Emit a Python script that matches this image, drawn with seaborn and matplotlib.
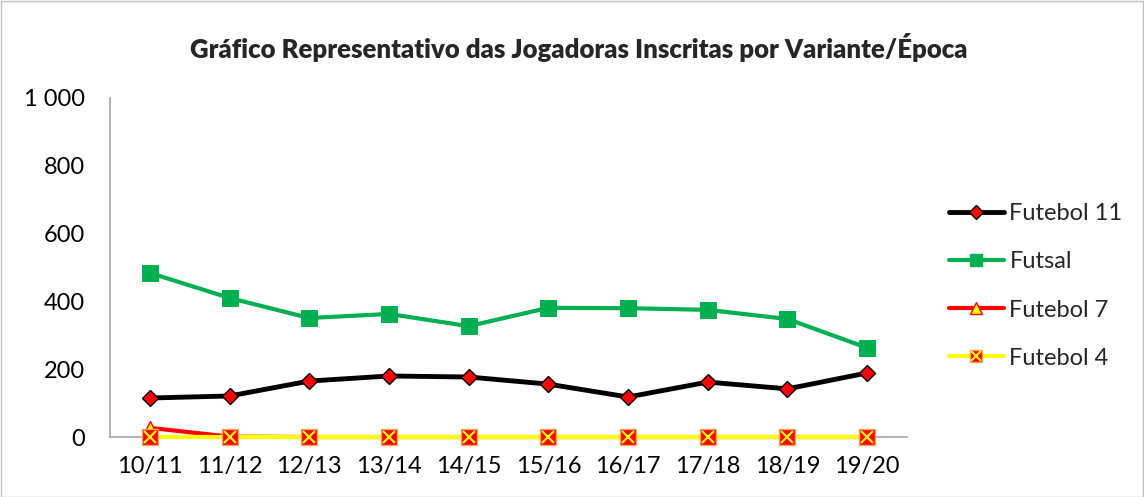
import matplotlib
matplotlib.use("Agg")
import matplotlib.pyplot as plt
import seaborn as sns
import pandas as pd
from matplotlib.lines import Line2D
from matplotlib.legend_handler import HandlerTuple
from matplotlib.ticker import FuncFormatter

epocas = ["10/11", "11/12", "12/13", "13/14", "14/15", "15/16", "16/17", "17/18", "18/19", "19/20"]
futebol11 = [115, 121, 165, 180, 177, 156, 118, 162, 142, 189]
futsal = [484, 410, 351, 363, 327, 381, 380, 375, 348, 263]
futebol7 = [27, 1, 0, 0, 0, 0, 0, 0, 0, 0]
futebol4 = [0, 0, 0, 0, 0, 0, 0, 0, 0, 0]
yticks = [0, 200, 400, 600, 800, 1000]

sns.set_theme(style="white")
plt.rcParams["font.family"] = ["Lato", "DejaVu Sans"]

df = pd.DataFrame({"Época": epocas, "Futebol 11": futebol11, "Futsal": futsal,
                   "Futebol 7": futebol7, "Futebol 4": futebol4})
df["pos"] = range(len(epocas))

fig = plt.figure(figsize=(11.44, 4.97), dpi=100)
ax = fig.add_axes([110 / 1144, 1 - 437 / 497, (907 - 110) / 1144, (437 - 98) / 497])

# Futebol 7 (por baixo)
sns.lineplot(data=df, x="pos", y="Futebol 7", ax=ax, color="#ff0000", lw=3, marker="^",
             markersize=10, markerfacecolor="#ffff00", markeredgecolor="#ff0000", markeredgewidth=1,
             zorder=3, clip_on=False)
# Futebol 4
sns.lineplot(data=df, x="pos", y="Futebol 4", ax=ax, color="#ffff00", lw=3, marker="s",
             markersize=11, markerfacecolor="#ff0000", markeredgecolor="#f4a460", markeredgewidth=1,
             zorder=4, clip_on=False)
ax.plot(df["pos"], df["Futebol 4"], ls="none", marker="x", markersize=9, color="#ffff00", mew=1.5,
        zorder=5, clip_on=False)
# Futsal
sns.lineplot(data=df, x="pos", y="Futsal", ax=ax, color="#00b050", lw=3, marker="s",
             markersize=11, markerfacecolor="#00b050", markeredgecolor="#00b050", zorder=6)
# Futebol 11
sns.lineplot(data=df, x="pos", y="Futebol 11", ax=ax, color="#000000", lw=3.5, marker="D",
             markersize=8, markerfacecolor="#ff0000", markeredgecolor="#000000", markeredgewidth=1,
             zorder=7)

ax.set_xlim(-0.5, len(epocas) - 0.5)
ax.set_ylim(0, 1000)
ax.set_xticks(df["pos"])
ax.set_xticklabels(epocas)
ax.set_yticks(yticks)
ax.yaxis.set_major_formatter(FuncFormatter(lambda v, p: f"{int(v):,}".replace(",", " ")))
ax.tick_params(axis="both", labelsize=17, length=0, colors="black")
ax.tick_params(axis="x", pad=14)
ax.tick_params(axis="y", pad=18)
ax.set_xlabel("")
ax.set_ylabel("")
for s in ["top", "right"]:
    ax.spines[s].set_visible(False)
for s in ["left", "bottom"]:
    ax.spines[s].set_color("#a6a6a6")
    ax.spines[s].set_linewidth(1.2)

fig.suptitle("Gráfico Representativo das Jogadoras Inscritas por Variante/Época",
             x=579 / 1144, y=1 - 48 / 497, va="center", fontsize=18.5, fontweight="heavy")

h11 = Line2D([], [], color="black", lw=3.5, marker="D", markersize=7,
             markerfacecolor="#ff0000", markeredgecolor="black")
hfs = Line2D([], [], color="#00b050", lw=3, marker="s", markersize=9,
             markerfacecolor="#00b050", markeredgecolor="#00b050")
h7 = Line2D([], [], color="#ff0000", lw=3, marker="^", markersize=9,
            markerfacecolor="#ffff00", markeredgecolor="#ff0000")
h4a = Line2D([], [], color="#ffff00", lw=3, marker="s", markersize=9,
             markerfacecolor="#ff0000", markeredgecolor="#f4a460")
h4b = Line2D([], [], ls="none", marker="x", markersize=7, color="#ffff00", mew=1.5)
leg = fig.legend([h11, hfs, h7, (h4a, h4b)], ["Futebol 11", "Futsal", "Futebol 7", "Futebol 4"],
                 handler_map={tuple: HandlerTuple(ndivide=1, pad=0)},
                 loc="center left", bbox_to_anchor=(928 / 1144, 1 - 286 / 497),
                 frameon=False, fontsize=17, handlelength=2.3, handletextpad=0.25,
                 labelspacing=1.15)

fig.patches.append(plt.Rectangle((0.001, 0.001), 0.998, 0.997, transform=fig.transFigure,
                                 fill=False, edgecolor="#bfbfbf", lw=1))
fig.savefig("out.png", dpi=100)
